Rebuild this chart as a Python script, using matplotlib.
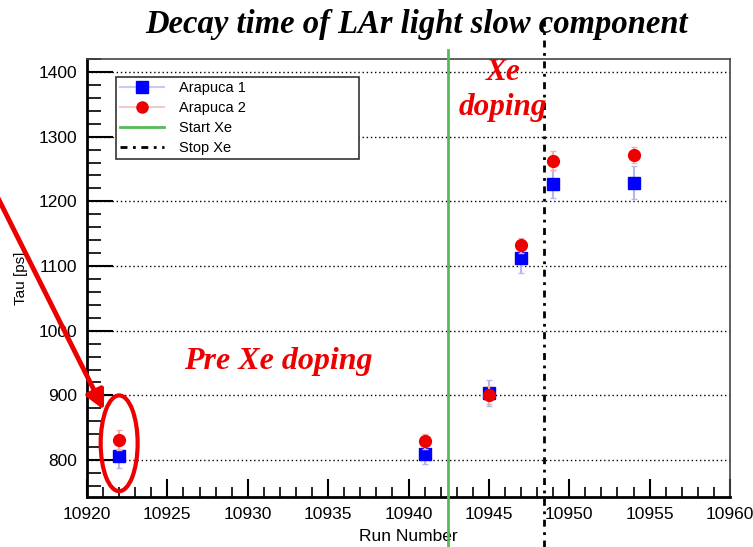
import matplotlib
matplotlib.use("Agg")
import matplotlib.pyplot as plt
from matplotlib.lines import Line2D
from matplotlib.patches import Ellipse
import matplotlib.transforms as mtransforms
from matplotlib.ticker import MultipleLocator

# Measured decay times (slow component) per run
runs = [10922, 10941, 10945, 10947, 10949, 10954]
tau_arapuca1 = [806, 809, 904, 1112, 1227, 1229]
err_arapuca1 = [18, 15, 20, 22, 22, 25]
tau_arapuca2 = [831, 829, 901, 1132, 1263, 1272]
err_arapuca2 = [15, 12, 14, 12, 15, 12]

start_xe = 10942.45
stop_xe = 10948.45

xlim = (10920, 10960)
ylim = (743, 1420)
x_ticks = [10920, 10925, 10930, 10935, 10940, 10945, 10950, 10955, 10960]
y_ticks = [800, 900, 1000, 1100, 1200, 1300, 1400]
legend_labels = ["Arapuca 1", "Arapuca 2", "Start Xe", "Stop Xe"]

sans = ["Liberation Sans", "DejaVu Sans"]
serif = ["Liberation Serif", "DejaVu Serif"]

W, H = 753, 547
fig = plt.figure(figsize=(W / 100, H / 100), dpi=100)
ax = fig.add_axes([87 / W, 1 - 497 / H, (730 - 87) / W, (497 - 59) / H])

# Data points with error bars
ax.errorbar(runs, tau_arapuca1, yerr=err_arapuca1, fmt="s", color="blue",
            ms=8.5, mec="blue", ecolor="#b4b8f0", elinewidth=1.5,
            capsize=2, capthick=1, zorder=5)
ax.errorbar(runs, tau_arapuca2, yerr=err_arapuca2, fmt="o", color="#ee0000",
            ms=8.5, mec="#ee0000", ecolor="#f2b0b0", elinewidth=1.5,
            capsize=2, capthick=1, zorder=6)

# Xe start/stop markers, drawn past the frame
trans = mtransforms.blended_transform_factory(ax.transData, ax.transAxes)
ax.plot([start_xe, start_xe], [-0.115, 1.02], color="#55bb55", lw=2,
        transform=trans, clip_on=False, zorder=4)
ax.plot([stop_xe, stop_xe], [-0.115, 1.09], color="black", lw=2,
        ls=(0, (2.5, 2, 1, 2)), transform=trans, clip_on=False, zorder=4)

ax.set_xlim(*xlim)
ax.set_ylim(*ylim)
ax.set_xticks(x_ticks)
ax.set_yticks(y_ticks)
ax.xaxis.set_minor_locator(MultipleLocator(1))
ax.yaxis.set_minor_locator(MultipleLocator(20))
ax.tick_params(which="major", direction="in", length=13, width=1.5,
               top=False, right=False, labelsize=12.5, pad=7)
ax.tick_params(which="minor", direction="in", length=7, width=1.2,
               top=False, right=False)
ax.tick_params(axis="y", which="major", length=19)
ax.tick_params(axis="y", which="minor", length=10)
for lab in ax.get_xticklabels() + ax.get_yticklabels():
    lab.set_family(sans)

ax.yaxis.grid(True, which="major", color="black", ls=(0, (1, 2)), lw=1)
for side in ["left", "bottom"]:
    ax.spines[side].set_linewidth(2)
for side in ["top", "right"]:
    ax.spines[side].set_linewidth(1.2)
    ax.spines[side].set_color("#444444")

ax.set_xlabel("Run Number", family=sans, fontsize=12.5, labelpad=5)
ax.set_ylabel("Tau [ps]", family=sans, fontsize=11, labelpad=8)

handles = [
    Line2D([], [], color="#c8caf0", lw=1.5, marker="s", ms=8,
           mfc="blue", mec="blue"),
    Line2D([], [], color="#f2c8c8", lw=1.5, marker="o", ms=8,
           mfc="#ee0000", mec="#ee0000"),
    Line2D([], [], color="#55bb55", lw=2),
    Line2D([], [], color="black", lw=2, ls=(0, (2.5, 2, 1, 2))),
]
leg = ax.legend(handles, legend_labels, loc="upper left",
                bbox_to_anchor=(116 / W, 1 - 159 / H, 243 / W, 82 / H),
                bbox_transform=fig.transFigure, borderaxespad=0,
                mode="expand",
                prop={"family": sans, "size": 10.5}, fancybox=False,
                edgecolor="#333333", framealpha=1, handlelength=3.0,
                labelspacing=0.4, borderpad=0.3, handletextpad=1.0)
leg.get_frame().set_linewidth(1.2)
leg.set_zorder(10)

# Title and annotations
fig.text(417 / W, 1 - 25 / H, "Decay time of LAr light slow component",
         family=serif, weight="bold", style="italic", fontsize=23.5,
         ha="center", va="center")
fig.text(503 / W, 1 - 72 / H, "Xe", family=serif, weight="bold",
         style="italic", fontsize=22.5, color="#ee0000", ha="center", va="center")
fig.text(503 / W, 1 - 107 / H, "doping", family=serif, weight="bold",
         style="italic", fontsize=22.5, color="#ee0000", ha="center", va="center")
fig.text(278 / W, 1 - 361 / H, "Pre Xe doping", family=serif, weight="bold",
         style="italic", fontsize=23, color="#ee0000", ha="center", va="center")

ell = Ellipse((10922, 826), width=2.3, height=148, fill=False,
              edgecolor="#ee0000", lw=3, clip_on=False, zorder=7)
ax.add_patch(ell)

ax.annotate("", xy=(104 / W, 1 - 410 / H), xytext=(-2 / W, 1 - 198 / H),
            xycoords="figure fraction", textcoords="figure fraction",
            arrowprops=dict(arrowstyle="-|>", color="#ee0000", lw=3.5,
                            mutation_scale=28, shrinkA=0, shrinkB=0),
            annotation_clip=False)

fig.savefig("out.png", dpi=100)
